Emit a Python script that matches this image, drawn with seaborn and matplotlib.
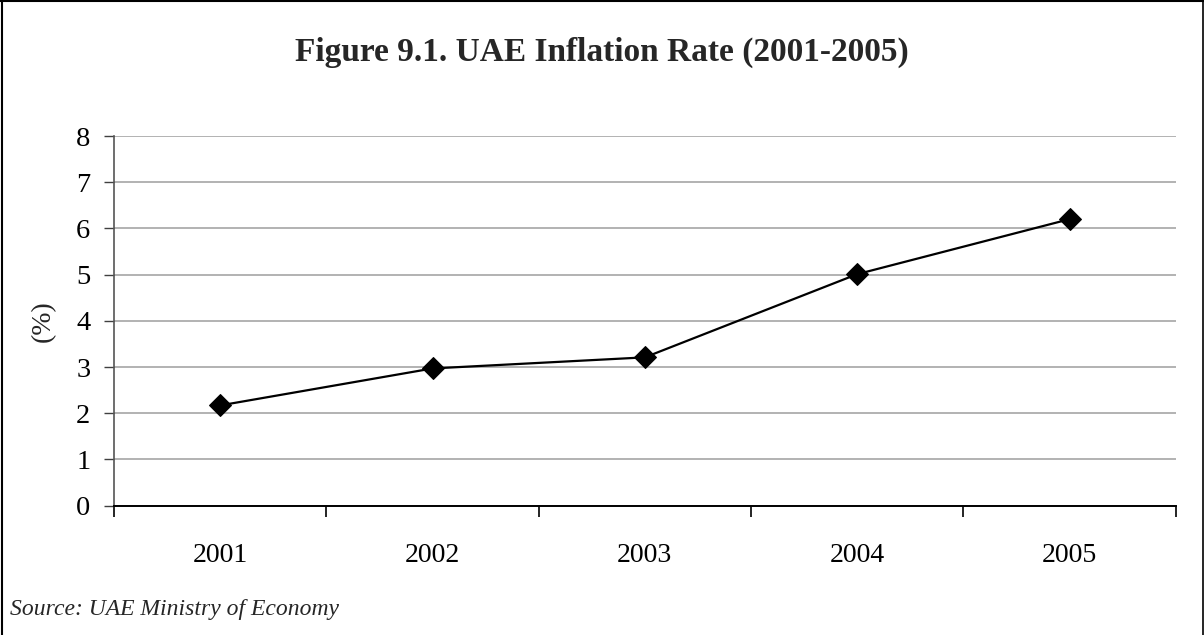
import numpy as np
import pandas as pd
import matplotlib
matplotlib.use("Agg")
import matplotlib.pyplot as plt
import seaborn as sns
from matplotlib.lines import Line2D
from matplotlib.ticker import FixedLocator

years = ["2001", "2002", "2003", "2004", "2005"]
inflation = [2.17, 2.97, 3.21, 5.01, 6.20]
y_ticks = [0, 1, 2, 3, 4, 5, 6, 7, 8]

title = "Figure 9.1. UAE Inflation Rate (2001-2005)"
y_label = "(%)"
source = "Source: UAE Ministry of Economy"

sns.set_theme(style="white")
plt.rcParams['font.family'] = ['Liberation Serif', 'DejaVu Serif']

df = pd.DataFrame({"pos": np.arange(len(years)), "value": inflation})

fig = plt.figure(figsize=(12.04, 6.35), dpi=100)
ax = fig.add_axes([114/1204, 1 - 505.7/635, (1175.7-114)/1204, (505.7-136)/635])

sns.lineplot(data=df, x="pos", y="value", ax=ax, color="black", linewidth=1.6,
             marker="D", markersize=11, markeredgecolor="black",
             markerfacecolor="black", zorder=3)

ax.set_xlim(-0.5, len(years) - 0.5)
ax.set_ylim(0, 8)
ax.set_yticks(y_ticks)
ax.set_yticklabels([str(t) for t in y_ticks], fontsize=20.5)
ax.set_xticks(np.arange(len(years)))
ax.set_xticklabels(years, fontsize=20)
ax.xaxis.set_minor_locator(FixedLocator(np.arange(-0.5, len(years), 1.0)))
ax.tick_params(axis="x", which="major", length=0, pad=27, colors="black")
ax.tick_params(axis="x", which="minor", length=8, width=1.2, direction="out",
               bottom=True, color="black")
ax.tick_params(axis="y", which="major", length=7, width=1.0, direction="out",
               left=True, pad=10, color="#404040", labelcolor="black")
ax.grid(axis="y", color="#a6a6a6", linewidth=1.2)
ax.set_axisbelow(True)
ax.set_xlabel("")
ax.set_ylabel(y_label, fontsize=20)
ax.yaxis.set_label_coords(-0.055, 0.5)

for s in ["top", "right"]:
    ax.spines[s].set_visible(False)
ax.spines["left"].set_color("#555555")
ax.spines["left"].set_linewidth(1.2)
ax.spines["bottom"].set_color("black")
ax.spines["bottom"].set_linewidth(1.4)

fig.text(0.5, 1 - 52/635, title, ha="center", va="center", fontsize=24,
         fontweight="bold")
fig.text(10/1204, 1 - 610/635, source, ha="left", va="center", fontsize=17,
         style="italic")

# figure frame (top, left, right)
fig.add_artist(Line2D([0.0015, 0.0015], [0, 0.998], transform=fig.transFigure, color="black", linewidth=1.5))
fig.add_artist(Line2D([0, 1], [0.998, 0.998], transform=fig.transFigure, color="black", linewidth=1.5))
fig.add_artist(Line2D([0.9992, 0.9992], [0, 0.998], transform=fig.transFigure, color="black", linewidth=1.2))

fig.savefig("out.png", dpi=100, facecolor="white")
